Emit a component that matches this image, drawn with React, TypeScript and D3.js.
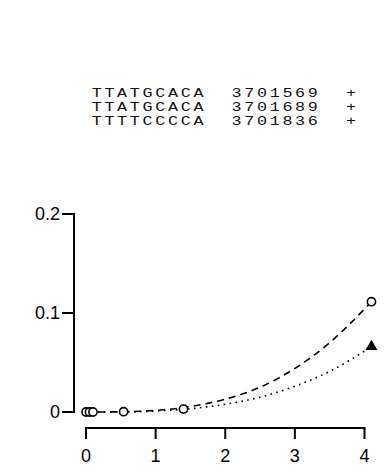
import React from "react";
import * as d3 from "d3";

const textRows: string[][] = [
  ["TTATGCACA", "3701569", "+"],
  ["TTATGCACA", "3701689", "+"],
  ["TTTTCCCCA", "3701836", "+"],
];

const xTicks = [0, 1, 2, 3, 4];
const yTicks = [0, 0.1, 0.2];
const yTickLabels = ["0", "0.1", "0.2"];

// open-circle series
const circleX = [0.0, 0.05, 0.1, 0.54, 1.4, 4.1];
const circleY = [0.0, 0.0, 0.0, 0.0003, 0.003, 0.1114];

// filled-triangle series (visible point)
const triX = [4.1];
const triY = [0.066];

// fitted curve through circles (dashed)
const fitX = [0, 0.5, 1, 1.5, 2, 2.5, 3, 3.5, 4.1];
const fitCircleY = [0, 0.0002, 0.0016, 0.0055, 0.013, 0.025, 0.044, 0.07, 0.1114];
// fitted curve through triangles (dotted)
const fitTriY = [0, 0.0001, 0.001, 0.0033, 0.0078, 0.015, 0.026, 0.041, 0.066];

export default function App() {
  const W = 390, H = 471;
  const x = d3.scaleLinear().domain([0, 4]).range([86, 364.5]);
  const y = d3.scaleLinear().domain([0, 0.2]).range([412, 214]);
  const axisY = 428;
  const axisX = 74;

  const line = d3
    .line<number>()
    .x((_, i) => x(fitX[i]))
    .y((d) => y(d))
    .curve(d3.curveMonotoneX);

  const tri = d3.symbol().type(d3.symbolTriangle).size(62)();

  const sans = "'Liberation Sans', Arial, sans-serif";
  const mono = "'Liberation Mono', 'Courier New', monospace";
  const sx = 1.35;

  return (
    <svg
      width={W}
      height={H}
      style={{ position: "absolute", left: 0, top: 0, background: "#fff" }}
    >
      <g transform={`scale(${sx},1)`}>
        {textRows.map((row, i) => (
          <text
            key={i}
            x={91.7 / sx}
            y={97 + i * 14.1}
            fontFamily={mono}
            fontSize={12.4}
            style={{ whiteSpace: "pre", letterSpacing: `${12.72 / sx - 7.44}px` }}
            fill="#111"
          >
            {row.join("  ")}
          </text>
        ))}
      </g>

      {/* y axis */}
      <line x1={axisX} x2={axisX} y1={y(0.2) - 1} y2={y(0) + 1} stroke="#000" strokeWidth={2} />
      {yTicks.map((t, i) => (
        <g key={i}>
          <line x1={axisX - 12} x2={axisX} y1={y(t)} y2={y(t)} stroke="#000" strokeWidth={2} />
          <text
            x={axisX - 14}
            y={y(t)}
            dy="0.36em"
            textAnchor="end"
            fontFamily={sans}
            fontSize={18}
            fill="#000"
          >
            {yTickLabels[i]}
          </text>
        </g>
      ))}

      {/* x axis */}
      <line x1={x(0) - 1} x2={x(4) + 1} y1={axisY} y2={axisY} stroke="#000" strokeWidth={2} />
      {xTicks.map((t) => (
        <g key={t}>
          <line x1={x(t)} x2={x(t)} y1={axisY} y2={axisY + 11} stroke="#000" strokeWidth={2} />
          <text
            x={x(t)}
            y={461.5}
            textAnchor="middle"
            fontFamily={sans}
            fontSize={18}
            fill="#000"
          >
            {t}
          </text>
        </g>
      ))}

      {/* fitted curves */}
      <path
        d={line(fitTriY) || ""}
        fill="none"
        stroke="#000"
        strokeWidth={1.6}
        strokeDasharray="1.6,4.4"
      />
      <path
        d={line(fitCircleY) || ""}
        fill="none"
        stroke="#000"
        strokeWidth={1.6}
        strokeDasharray="7,5"
      />

      {/* triangles */}
      {triX.map((v, i) => (
        <path key={i} d={tri || ""} transform={`translate(${x(v)},${y(triY[i])})`} fill="#000" />
      ))}

      {/* circles */}
      {circleX.map((v, i) => (
        <circle
          key={i}
          cx={x(v)}
          cy={y(circleY[i])}
          r={4.1}
          fill="#fff"
          stroke="#000"
          strokeWidth={1.6}
        />
      ))}
    </svg>
  );
}
